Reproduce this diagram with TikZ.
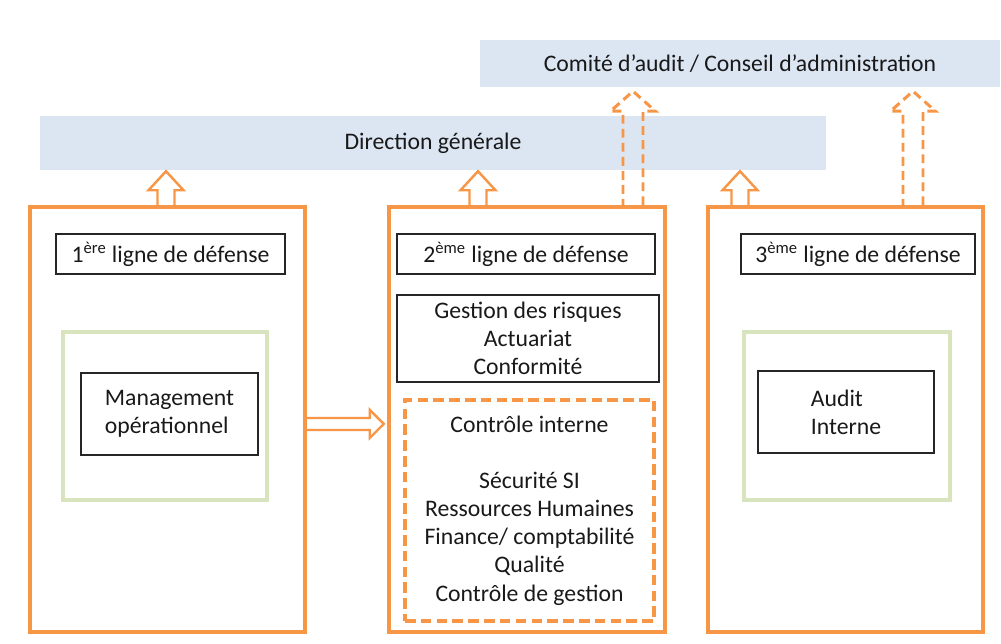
\documentclass[tikz,border=0pt]{standalone}
\usepackage{fontspec}
\setmainfont{Carlito}
\usetikzlibrary{calc}
\definecolor{defOrange}{RGB}{247,150,70}
\definecolor{defBlue}{RGB}{220,230,242}
\definecolor{defGreen}{RGB}{215,228,189}
\newcommand{\BlockArrow}[7][]{%
\begin{scope}[shift={(#2)},rotate=#4]
  \draw[blockarrow,#1] (0,-#5) -- (#3-#7,-#5) -- (#3-#7,-#6) -- (#3,0)
    -- (#3-#7,#6) -- (#3-#7,#5) -- (0,#5);
\end{scope}}

\begin{document}
\begin{tikzpicture}[
  every node/.style={font=\fontsize{13.5}{16}\selectfont,text=black!90},
  band/.style={fill=defBlue,inner sep=0pt},
  column/.style={draw=defOrange,line width=2pt,minimum width=5.5cm,minimum height=8.5cm},
  titlebox/.style={draw=black!85,line width=0.9pt,minimum height=0.8cm},
  greenbox/.style={draw=defGreen,line width=2pt},
  textbox/.style={draw=black!85,line width=0.9pt},
  blockarrow/.style={draw=defOrange,line width=1.4pt},
  dashedarrow/.style={line width=1.7pt,dash pattern=on 5pt off 3pt}]
\useasboundingbox (0,0) rectangle (20.02,-12.88);

% bandeaux du haut
\node[band,minimum width=10.4cm,minimum height=0.94cm] (comite) at (14.8,-1.27) {Comité d’audit / Conseil d’administration};
\node[band,minimum width=15.72cm,minimum height=1.08cm] (direction) at (8.66,-2.86) {Direction générale};

% les trois lignes
\node[column] (col1) at (3.35,-8.39) {};
\node[column,minimum width=5.52cm] (col2) at (10.54,-8.39) {};
\node[column] (col3) at (16.91,-8.39) {};

\node[titlebox,minimum width=4.58cm] (titre1) at (3.41,-5.08) {1\textsuperscript{ère} ligne de défense};
\node[titlebox,minimum width=5.16cm] (titre2) at (10.52,-5.08) {2\textsuperscript{ème} ligne de défense};
\node[titlebox,minimum width=4.68cm] (titre3) at (17.16,-5.08) {3\textsuperscript{ème} ligne de défense};

\node[greenbox,minimum width=4.08cm,minimum height=3.36cm] (vert1) at (3.3,-8.32) {};
\node[greenbox,minimum width=4.12cm,minimum height=3.36cm] (vert3) at (16.94,-8.32) {};
\node[textbox,align=left,minimum width=3.54cm,minimum height=1.64cm] (management) at (3.39,-8.28) {Management\\opérationnel};
\node[textbox,align=left,minimum width=3.52cm,minimum height=1.64cm] (audit) at (16.92,-8.24) {Audit\\Interne};

\node[textbox,align=center,minimum width=5.24cm,minimum height=1.74cm] (risques) at (10.56,-6.77) {Gestion des risques\\Actuariat\\Conformité};
\node[draw=defOrange,line width=2.2pt,dash pattern=on 6pt off 3pt,align=center,minimum width=4.98cm,minimum height=4.42cm] (controle) at (10.59,-10.21)
  {Contrôle interne\\[16pt]Sécurité SI\\Ressources Humaines\\Finance/ comptabilité\\Qualité\\Contrôle de gestion};

% fleches
\coordinate (up1) at ($(col1.north)+(-0.03,0)$);
\coordinate (up2) at ($(col2.north)+(-0.98,0)$);
\coordinate (up3) at ($(col3.north)+(-2.11,0)$);
\coordinate (up4) at ($(col2.north)+(2.12,0)$);
\coordinate (up5) at ($(col3.north)+(1.35,0)$);
\coordinate (right1) at ($(col1.east)+(0,-0.09)$);
\BlockArrow{up1}{0.68}{90}{0.17}{0.35}{0.38}
\BlockArrow{up2}{0.68}{90}{0.17}{0.35}{0.38}
\BlockArrow{up3}{0.68}{90}{0.17}{0.35}{0.38}
\BlockArrow[dashedarrow]{up4}{2.28}{90}{0.2}{0.45}{0.4}
\BlockArrow[dashedarrow]{up5}{2.28}{90}{0.2}{0.45}{0.4}
\BlockArrow{right1}{1.54}{0}{0.12}{0.28}{0.28}
\end{tikzpicture}
\end{document}
